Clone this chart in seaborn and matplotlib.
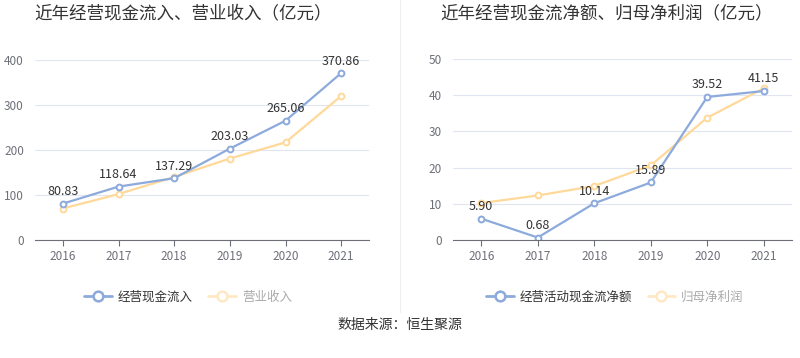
import pandas as pd
import numpy as np
import matplotlib
matplotlib.use("Agg")
import matplotlib.pyplot as plt
from matplotlib.lines import Line2D
import seaborn as sns

years = ["2016", "2017", "2018", "2019", "2020", "2021"]
cash_in = [80.83, 118.64, 137.29, 203.03, 265.06, 370.86]
revenue = [70, 102, 140, 181, 217, 320]
cash_net = [5.90, 0.68, 10.14, 15.89, 39.52, 41.15]
net_profit = [10.2, 12.3, 14.9, 20.6, 33.8, 41.9]

sns.set_style("white")
plt.rcParams['font.family'] = ['Noto Sans CJK SC', 'DejaVu Sans']

BLUE = "#8caadc"
YELLOW = "#ffd99a"
GRID = "#e0e6f1"
TICK = "#6e7079"

W, H = 800, 358
fig = plt.figure(figsize=(W / 100, H / 100), dpi=100)


def px_axes(x0, y0, x1, y1):
    return fig.add_axes([x0 / W, 1 - y1 / H, (x1 - x0) / W, (y1 - y0) / H])


def draw(ax, s1, s2, ymax, step, label_off):
    df = pd.DataFrame({"year": years, "a": s1, "b": s2})
    for col, c in (("b", YELLOW), ("a", BLUE)):
        sns.lineplot(data=df, x="year", y=col, ax=ax, color=c, lw=1.6,
                     marker="o", markersize=4.2, markerfacecolor="white",
                     markeredgecolor=c, markeredgewidth=1.4)
    for i, v in enumerate(s1):
        ax.annotate(f"{v:.2f}", (i, v), xytext=(0, label_off), textcoords="offset points",
                    ha="center", va="bottom", fontsize=9, color="#333333")
    ax.set_xlim(-0.5, len(years) - 0.5)
    ax.set_ylim(0, ymax)
    ax.set_yticks(np.arange(0, ymax + 1, step))
    ax.set_xlabel("")
    ax.set_ylabel("")
    ax.grid(axis="y", color=GRID, lw=0.8)
    ax.set_axisbelow(True)
    for s in ("top", "right", "left"):
        ax.spines[s].set_visible(False)
    ax.spines["bottom"].set_color(TICK)
    ax.spines["bottom"].set_linewidth(0.8)
    ax.tick_params(axis="x", colors=TICK, labelsize=8.5, length=4, width=0.8,
                   direction="out", bottom=True, pad=3)
    ax.tick_params(axis="y", colors=TICK, labelsize=8.5, length=0, pad=8)


ax1 = px_axes(35, 60, 369, 240)
draw(ax1, cash_in, revenue, 400, 100, 4)
ax2 = px_axes(453, 59, 792, 240)
draw(ax2, cash_net, net_profit, 50, 10, 4)

fig.text(183 / W, 1 - 13 / H, "近年经营现金流入、营业收入（亿元）", ha="center", va="center",
         fontsize=12.6, color="#333333")
fig.text(607 / W, 1 - 13 / H, "近年经营现金流净额、归母净利润（亿元）", ha="center", va="center",
         fontsize=12.6, color="#333333")
fig.text(400 / W, 1 - 325 / H, "数据来源：恒生聚源", ha="center", va="center",
         fontsize=10, color="#333333")
fig.add_artist(Line2D([400 / W, 400 / W], [1 - 0 / H, 1 - 312 / H], color="#eeeeee", lw=0.8))


def handle(c):
    return Line2D([], [], color=c, lw=2, marker="o", markersize=7,
                  markerfacecolor="white", markeredgecolor=c, markeredgewidth=1.8)


for names, cx in ((["经营现金流入", "营业收入"], 188),
                  (["经营活动现金流净额", "归母净利润"], 615)):
    leg = fig.legend([handle(BLUE), handle("#ffe8c4")], names, loc="center",
                     bbox_to_anchor=(cx / W, 1 - 297 / H), ncol=2, frameon=False,
                     fontsize=9, handlelength=2.2, handletextpad=0.5, columnspacing=1.2)
    leg.get_texts()[0].set_color("#333333")
    leg.get_texts()[1].set_color("#aaaaaa")

fig.savefig("out.png", dpi=100)
